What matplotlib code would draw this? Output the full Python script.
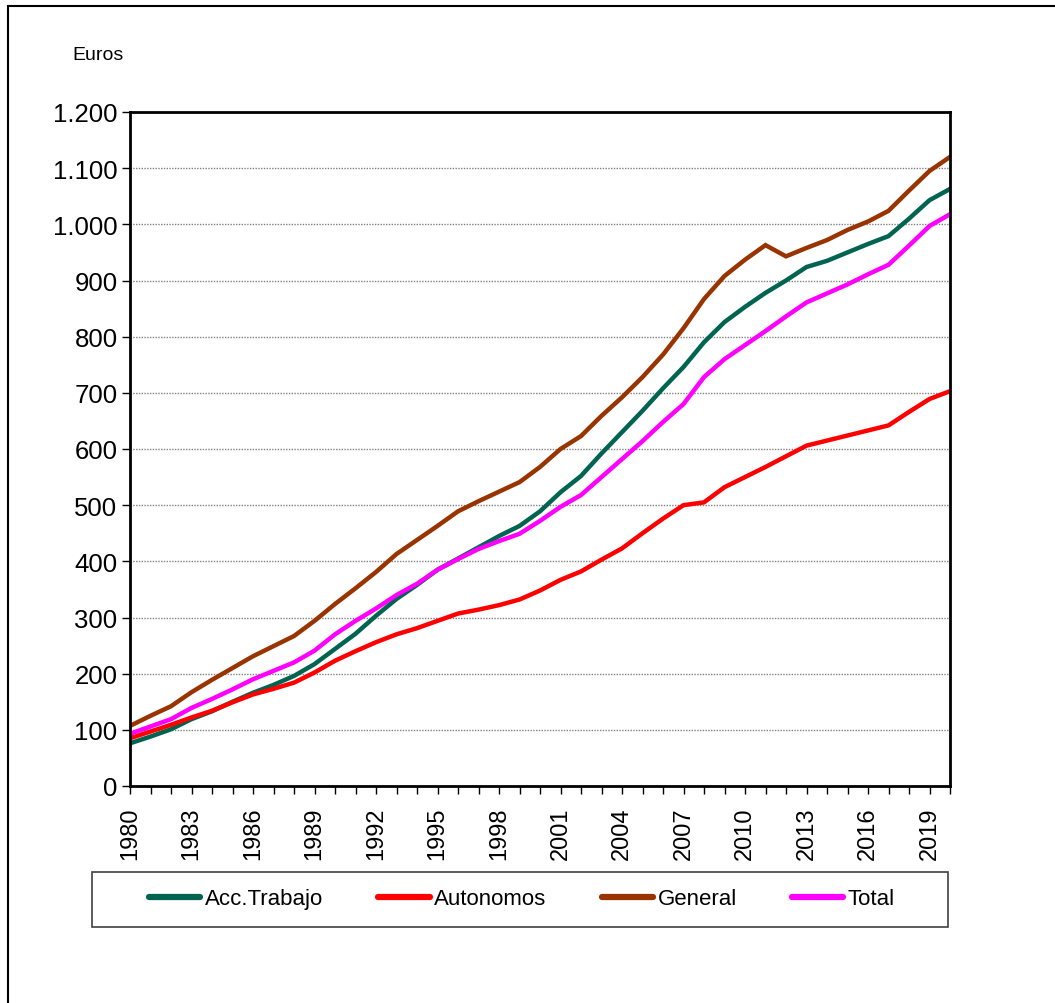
import matplotlib.pyplot as plt
from matplotlib.ticker import FuncFormatter, MultipleLocator
from matplotlib.patches import Rectangle

plt.rcParams["font.family"] = ["Liberation Sans", "DejaVu Sans"]

years = list(range(1980, 2021))

acc_trabajo = [76, 88, 101, 119, 133, 150, 166, 180, 196, 217,
               244, 271, 303, 333, 358, 385, 405, 425, 445, 463,
               489, 523, 552, 592, 630, 668, 708, 746, 790, 826,
               853, 878, 900, 924, 935, 950, 965, 979, 1010, 1043, 1063]
autonomos = [85, 97, 109, 122, 134, 149, 163, 173, 184, 202,
             223, 240, 256, 270, 281, 294, 307, 314, 322, 332,
             348, 367, 382, 403, 423, 450, 476, 500, 505, 532,
             550, 568, 587, 606, 615, 624, 633, 642, 666, 689, 703]
general = [107, 125, 142, 167, 189, 210, 231, 249, 267, 294,
           324, 352, 381, 413, 438, 463, 489, 507, 524, 541,
           568, 600, 623, 659, 692, 728, 768, 815, 867, 908,
           937, 963, 943, 958, 972, 990, 1005, 1024, 1060, 1095, 1120]
total = [93, 106, 119, 139, 155, 172, 190, 205, 220, 241,
         270, 294, 316, 340, 360, 385, 404, 422, 436, 449,
         472, 497, 518, 550, 582, 614, 648, 680, 728, 760,
         785, 810, 836, 861, 877, 893, 911, 928, 962, 997, 1018]

series = [
    ("Acc.Trabajo", acc_trabajo, "#006450"),
    ("Autonomos", autonomos, "#ff0000"),
    ("General", general, "#993300"),
    ("Total", total, "#ff00ff"),
]

W, H = 1055, 1004
fig = plt.figure(figsize=(W / 100, H / 100), dpi=100)
ax = fig.add_axes([130 / W, 1 - 787 / H, 820 / W, 674 / H])

for name, vals, col in series:
    ax.plot(years, vals, color=col, linewidth=3.2, label=name, solid_joinstyle="miter")

ax.set_xlim(1980, 2020)
ax.set_ylim(0, 1200)
ax.set_xticks(range(1980, 2020, 3))
ax.xaxis.set_minor_locator(MultipleLocator(1))
ax.yaxis.set_major_locator(MultipleLocator(100))
ax.yaxis.set_major_formatter(FuncFormatter(lambda v, p: f"{int(v):,}".replace(",", ".")))
ax.tick_params(axis="x", which="both", direction="out", length=6, width=1, labelsize=17,
               labelrotation=90, pad=9)
ax.tick_params(axis="y", direction="out", length=6, width=1, labelsize=18.5, pad=3)
ax.grid(axis="y", color="#808080", linestyle=(0, (1, 1)), linewidth=1)
for s in ax.spines.values():
    s.set_linewidth(2)
    s.set_color("black")

fig.text(72 / W, 1 - 56 / H, "Euros", fontsize=14, va="center", ha="left")

# legend box drawn by hand, legend itself centred inside it
fig.patches.append(Rectangle((92 / W, 1 - 928 / H), 856 / W, 55 / H, transform=fig.transFigure,
                             fill=False, edgecolor="#404040", linewidth=1.2))
leg = fig.legend(loc="center", ncol=4, bbox_to_anchor=(522 / W, 1 - 900 / H),
                 fontsize=16, frameon=False, handlelength=2.3, handletextpad=0.2,
                 columnspacing=2.5, borderaxespad=0)
for h in leg.get_lines():
    h.set_linewidth(4.5)
    h.set_solid_capstyle("round")

fig.patches.append(Rectangle((8 / W, -0.1), 1.2, 1 - 7 / H + 0.1, transform=fig.transFigure,
                             fill=False, edgecolor="black", linewidth=1.5))

fig.savefig("out.png", dpi=100)
